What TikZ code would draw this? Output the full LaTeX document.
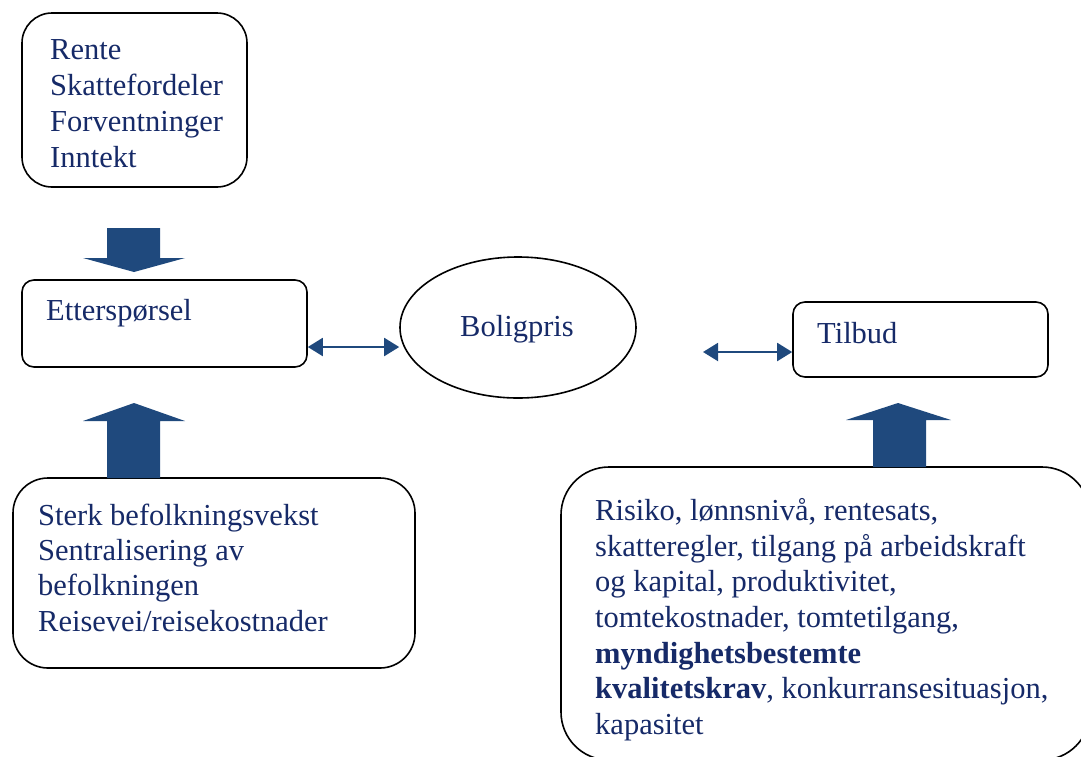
\documentclass[tikz,border=0pt]{standalone}
\usepackage{fontspec}
\setmainfont{Liberation Serif}
\usetikzlibrary{arrows.meta,shapes.geometric}
\definecolor{txt}{RGB}{22,42,104}
\definecolor{arr}{RGB}{31,73,125}
\tikzset{
  x=1pt, y=-1pt,
  box/.style={draw=black, line width=1.6pt, fill=white, inner sep=0pt},
  lbl/.style={anchor=base west, inner sep=0pt, text=txt, font=\fontsize{30.5}{36}\selectfont},
  dbl/.style={arr, line width=2pt, {Triangle[length=15pt,width=18pt]}-{Triangle[length=15pt,width=18pt]}},
  blk/.style={fill=arr, draw=none}
}
\begin{document}
\begin{tikzpicture}
\useasboundingbox (0,0) rectangle (1081,756);
\clip (0,0) rectangle (1081,756);
% boxes
\node[box, rounded corners=30pt, minimum width=225pt, minimum height=174pt] (dem) at (134.5,100) {};
\node[box, rounded corners=12pt, minimum width=285pt, minimum height=87pt] (etter) at (164.5,323.5) {};
\node[box, ellipse, minimum width=236pt, minimum height=141pt] (boli) at (518,327.5) {};
\node[box, rounded corners=12pt, minimum width=255pt, minimum height=75pt] (tilb) at (920.5,339.5) {};
\node[box, rounded corners=35pt, minimum width=402pt, minimum height=190pt] (pop) at (214,573) {};
\node[box, rounded corners=48pt, minimum width=529pt, minimum height=293pt] (sup) at (825.5,613.5) {};
% texts
\node[lbl] (t1) at (50,59) {Rente};
\node[lbl] (t2) at (50,95) {Skattefordeler};
\node[lbl] (t3) at (50,131) {Forventninger};
\node[lbl] (t4) at (50,167) {Inntekt};
\node[lbl] (te) at (46,320) {Etterspørsel};
\node[lbl] (tb) at (460,336) {Boligpris};
\node[lbl] (tt) at (817,343) {Tilbud};
\node[lbl] (p1) at (38,525) {Sterk befolkningsvekst};
\node[lbl] (p2) at (38,560) {Sentralisering av};
\node[lbl] (p3) at (38,595) {befolkningen};
\node[lbl] (p4) at (38,631) {Reisevei/reisekostnader};
\node[lbl] (s1) at (595,520) {Risiko, lønnsnivå, rentesats,};
\node[lbl] (s2) at (595,556) {skatteregler, tilgang på arbeidskraft};
\node[lbl] (s3) at (595,591) {og kapital, produktivitet,};
\node[lbl] (s4) at (595,627) {tomtekostnader, tomtetilgang,};
\node[lbl] (s5) at (595,663) {\bfseries myndighetsbestemte};
\node[lbl] (s6) at (595,698) {{\bfseries kvalitetskrav}, konkurransesituasjon,};
\node[lbl] (s7) at (595,734) {kapasitet};
% block arrows
\fill[blk] (107,228) -- (160,228) -- (160,258) -- (185,258) -- (134,272) -- (83,258) -- (107,258) -- cycle;
\fill[blk] (107,478) -- (160,478) -- (160,421) -- (185,421) -- (134,403) -- (83,421) -- (107,421) -- cycle;
\fill[blk] (873,467) -- (926,467) -- (926,420) -- (951,420) -- (898,403) -- (846,420) -- (873,420) -- cycle;
% double arrows
\coordinate (a2) at (703,352);
\draw[dbl] (etter.east |- 0,347) -- (boli.west |- 0,347);
\draw[dbl] (a2) -- (tilb.west |- a2);
\end{tikzpicture}
\end{document}
